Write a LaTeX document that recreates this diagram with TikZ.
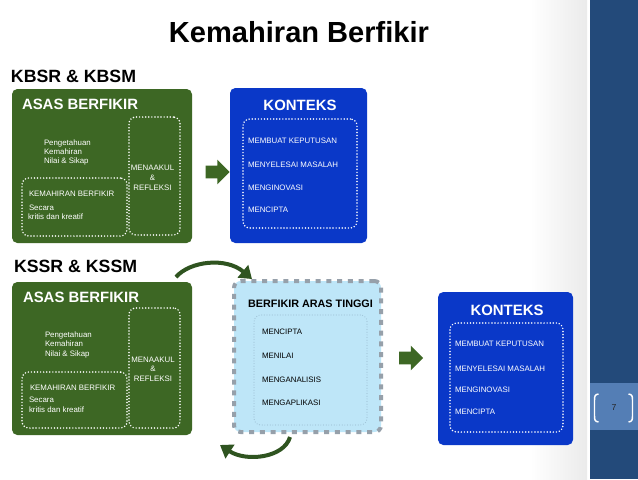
\documentclass[tikz,border=0pt]{standalone}
\usepackage{fontspec}
\setmainfont{Liberation Sans}
\usetikzlibrary{arrows.meta,fit,shapes.arrows}
\definecolor{dgreen}{RGB}{61,103,36}
\definecolor{kblue}{RGB}{10,56,200}
\definecolor{lblue}{RGB}{190,230,248}
\definecolor{bgray}{RGB}{150,160,170}
\definecolor{idot}{RGB}{160,195,215}
\definecolor{sidebar}{RGB}{35,74,122}
\definecolor{pagebox}{RGB}{84,126,181}
\definecolor{arrgreen}{RGB}{47,84,32}
\begin{document}
\begin{tikzpicture}[x=0.75pt,y=-0.75pt,
  every node/.style={inner sep=0pt,outer sep=0pt},
  gbox/.style={fill=dgreen,rounded corners=4pt},
  bbox/.style={fill=kblue,rounded corners=4pt},
  dotw/.style={draw=white,line width=1.25pt,dash pattern=on 0pt off 2.3pt,line cap=round,rounded corners=5pt},
  doti/.style={draw=idot,line width=0.9pt,dash pattern=on 0pt off 2pt,line cap=round,rounded corners=5pt},
  sm/.style={font=\fontsize{5.9}{7}\selectfont,text=white,anchor=west,text height=4.2pt,text depth=0pt},
  smc/.style={sm,anchor=center},
  smk/.style={sm,text=black},
  hd/.style={font=\bfseries\fontsize{11.2}{13}\selectfont,text=white,text height=8pt,text depth=0pt},
  sec/.style={font=\bfseries\fontsize{13.3}{15}\selectfont,text=black,anchor=west,text height=9.6pt,text depth=0pt},
  blockarrow/.style={single arrow,fill=dgreen,minimum height=18pt,single arrow head extend=4.5pt,inner ysep=4.5pt,inner xsep=0pt},
  carrow/.style={draw=arrgreen,line width=3pt,-{Triangle[length=9pt,width=12pt]}}
]
\useasboundingbox (0,0) rectangle (638,479);
\fill[white] (0,0) rectangle (638,479);
\shade[left color=white,right color=black!8] (530,0) rectangle (587,479);
\fill[sidebar] (590,0) rectangle (638,479);
\fill[pagebox] (590,383) rectangle (638,430);
\draw[white,line width=1.1pt] (598.5,394) .. controls (595,394.5) and (594.5,396) .. (594.5,400) -- (594.5,416) .. controls (594.5,420) and (595,421.5) .. (598.5,422);
\draw[white,line width=1.1pt] (628.5,394) .. controls (632,394.5) and (632.5,396) .. (632.5,400) -- (632.5,416) .. controls (632.5,420) and (632,421.5) .. (628.5,422);
\node[font=\fontsize{6.5}{7}\selectfont,text=black!85] (pg) at (614,408) {7};

% title
\node[font=\bfseries\fontsize{21.8}{24}\selectfont,text height=15.6pt,text depth=0pt] (title) at (299,32.5) {Kemahiran Berfikir};
\node[sec] (kbsr) at (11,76) {KBSR \& KBSM};
\node[sec] (kssr) at (14,266) {KSSR \& KSSM};

% ---------- top row ----------
\node[gbox,fit={(12,89) (192,243)}] (g1) {};
\node[hd,anchor=west] (g1t) at (22,104.5) {ASAS BERFIKIR};
\node[dotw,fit={(129,117) (180,235)}] (m1) {};
\node[dotw,fit={(22,178) (127,236)}] (k1) {};
\node[sm] (g1a) at (44,142.7) {Pengetahuan};
\node[sm] (g1b) at (44,151.7) {Kemahiran};
\node[sm] (g1c) at (44,161) {Nilai \& Sikap};
\node[smc] (m1a) at (152.5,167.3) {MENAAKUL};
\node[smc] (m1b) at (152.5,177.3) {\&};
\node[smc] (m1c) at (152.5,187.3) {REFLEKSI};
\node[sm] (k1a) at (29,193.3) {KEMAHIRAN BERFIKIR};
\node[sm] (k1b) at (29,207.3) {Secara};
\node[sm] (k1c) at (28,216.7) {kritis dan kreatif};

\node[blockarrow] (a1) at (214.5,172) {};

\node[bbox,fit={(230,88) (367,243)}] (b1) {};
\node[hd] (b1t) at (300,105) {KONTEKS};
\node[dotw,fit={(243,119) (357,228)}] (b1i) {};
\node[sm] (b1a) at (248,141) {MEMBUAT KEPUTUSAN};
\node[sm] (b1b) at (248,165) {MENYELESAI MASALAH};
\node[sm] (b1c) at (248,187.3) {MENGINOVASI};
\node[sm] (b1d) at (248,209.3) {MENCIPTA};

% ---------- bottom row ----------
\node[gbox,fit={(12,282) (192,435)}] (g2) {};
\node[hd,anchor=west] (g2t) at (23,297) {ASAS BERFIKIR};
\node[dotw,fit={(129,308) (180,428)}] (m2) {};
\node[dotw,fit={(22,372) (127,428)}] (k2) {};
\node[sm] (g2a) at (45,334.3) {Pengetahuan};
\node[sm] (g2b) at (45,343.3) {Kemahiran};
\node[sm] (g2c) at (45,353.3) {Nilai \& Sikap};
\node[smc] (m2a) at (153,360) {MENAAKUL};
\node[smc] (m2b) at (153,368.3) {\&};
\node[smc] (m2c) at (153,378.3) {REFLEKSI};
\node[sm] (k2a) at (30,387.3) {KEMAHIRAN BERFIKIR};
\node[sm] (k2b) at (29,400) {Secara};
\node[sm] (k2c) at (29,409.3) {kritis dan kreatif};

\node[fill=lblue,draw=bgray,line width=3pt,dash pattern=on 3.75pt off 4.3pt,rounded corners=5pt,fit={(234,281) (381,432)}] (hot) {};
\node[font=\bfseries\fontsize{8.1}{10}\selectfont,text height=5.8pt,text depth=0pt] (hott) at (310.5,303.3) {BERFIKIR ARAS TINGGI};
\node[doti,fit={(254,315) (367,425)}] (hoti) {};
\node[smk] (h1) at (262,331.7) {MENCIPTA};
\node[smk] (h2) at (262,356) {MENILAI};
\node[smk] (h3) at (262,379.3) {MENGANALISIS};
\node[smk] (h4) at (262,402.7) {MENGAPLIKASI};

\node[blockarrow] (a2) at (408,358) {};

\node[bbox,fit={(438,292) (573,445)}] (b2) {};
\node[hd] (b2t) at (507,310) {KONTEKS};
\node[dotw,fit={(450,323) (563,432)}] (b2i) {};
\node[sm] (b2a) at (455,343.3) {MEMBUAT KEPUTUSAN};
\node[sm] (b2b) at (455,368.3) {MENYELESAI MASALAH};
\node[sm] (b2c) at (455,390) {MENGINOVASI};
\node[sm] (b2d) at (455,411.7) {MENCIPTA};

% curved connectors
\coordinate (c1s) at (176,277);
\coordinate (c1e) at (252,279);
\draw[carrow] (c1s) .. controls (190,261) and (226,257) .. (c1e);
\coordinate (c2s) at (290,437);
\coordinate (c2e) at (220,445);
\draw[carrow] (c2s) .. controls (284,458) and (246,462) .. (c2e);
\end{tikzpicture}
\end{document}
